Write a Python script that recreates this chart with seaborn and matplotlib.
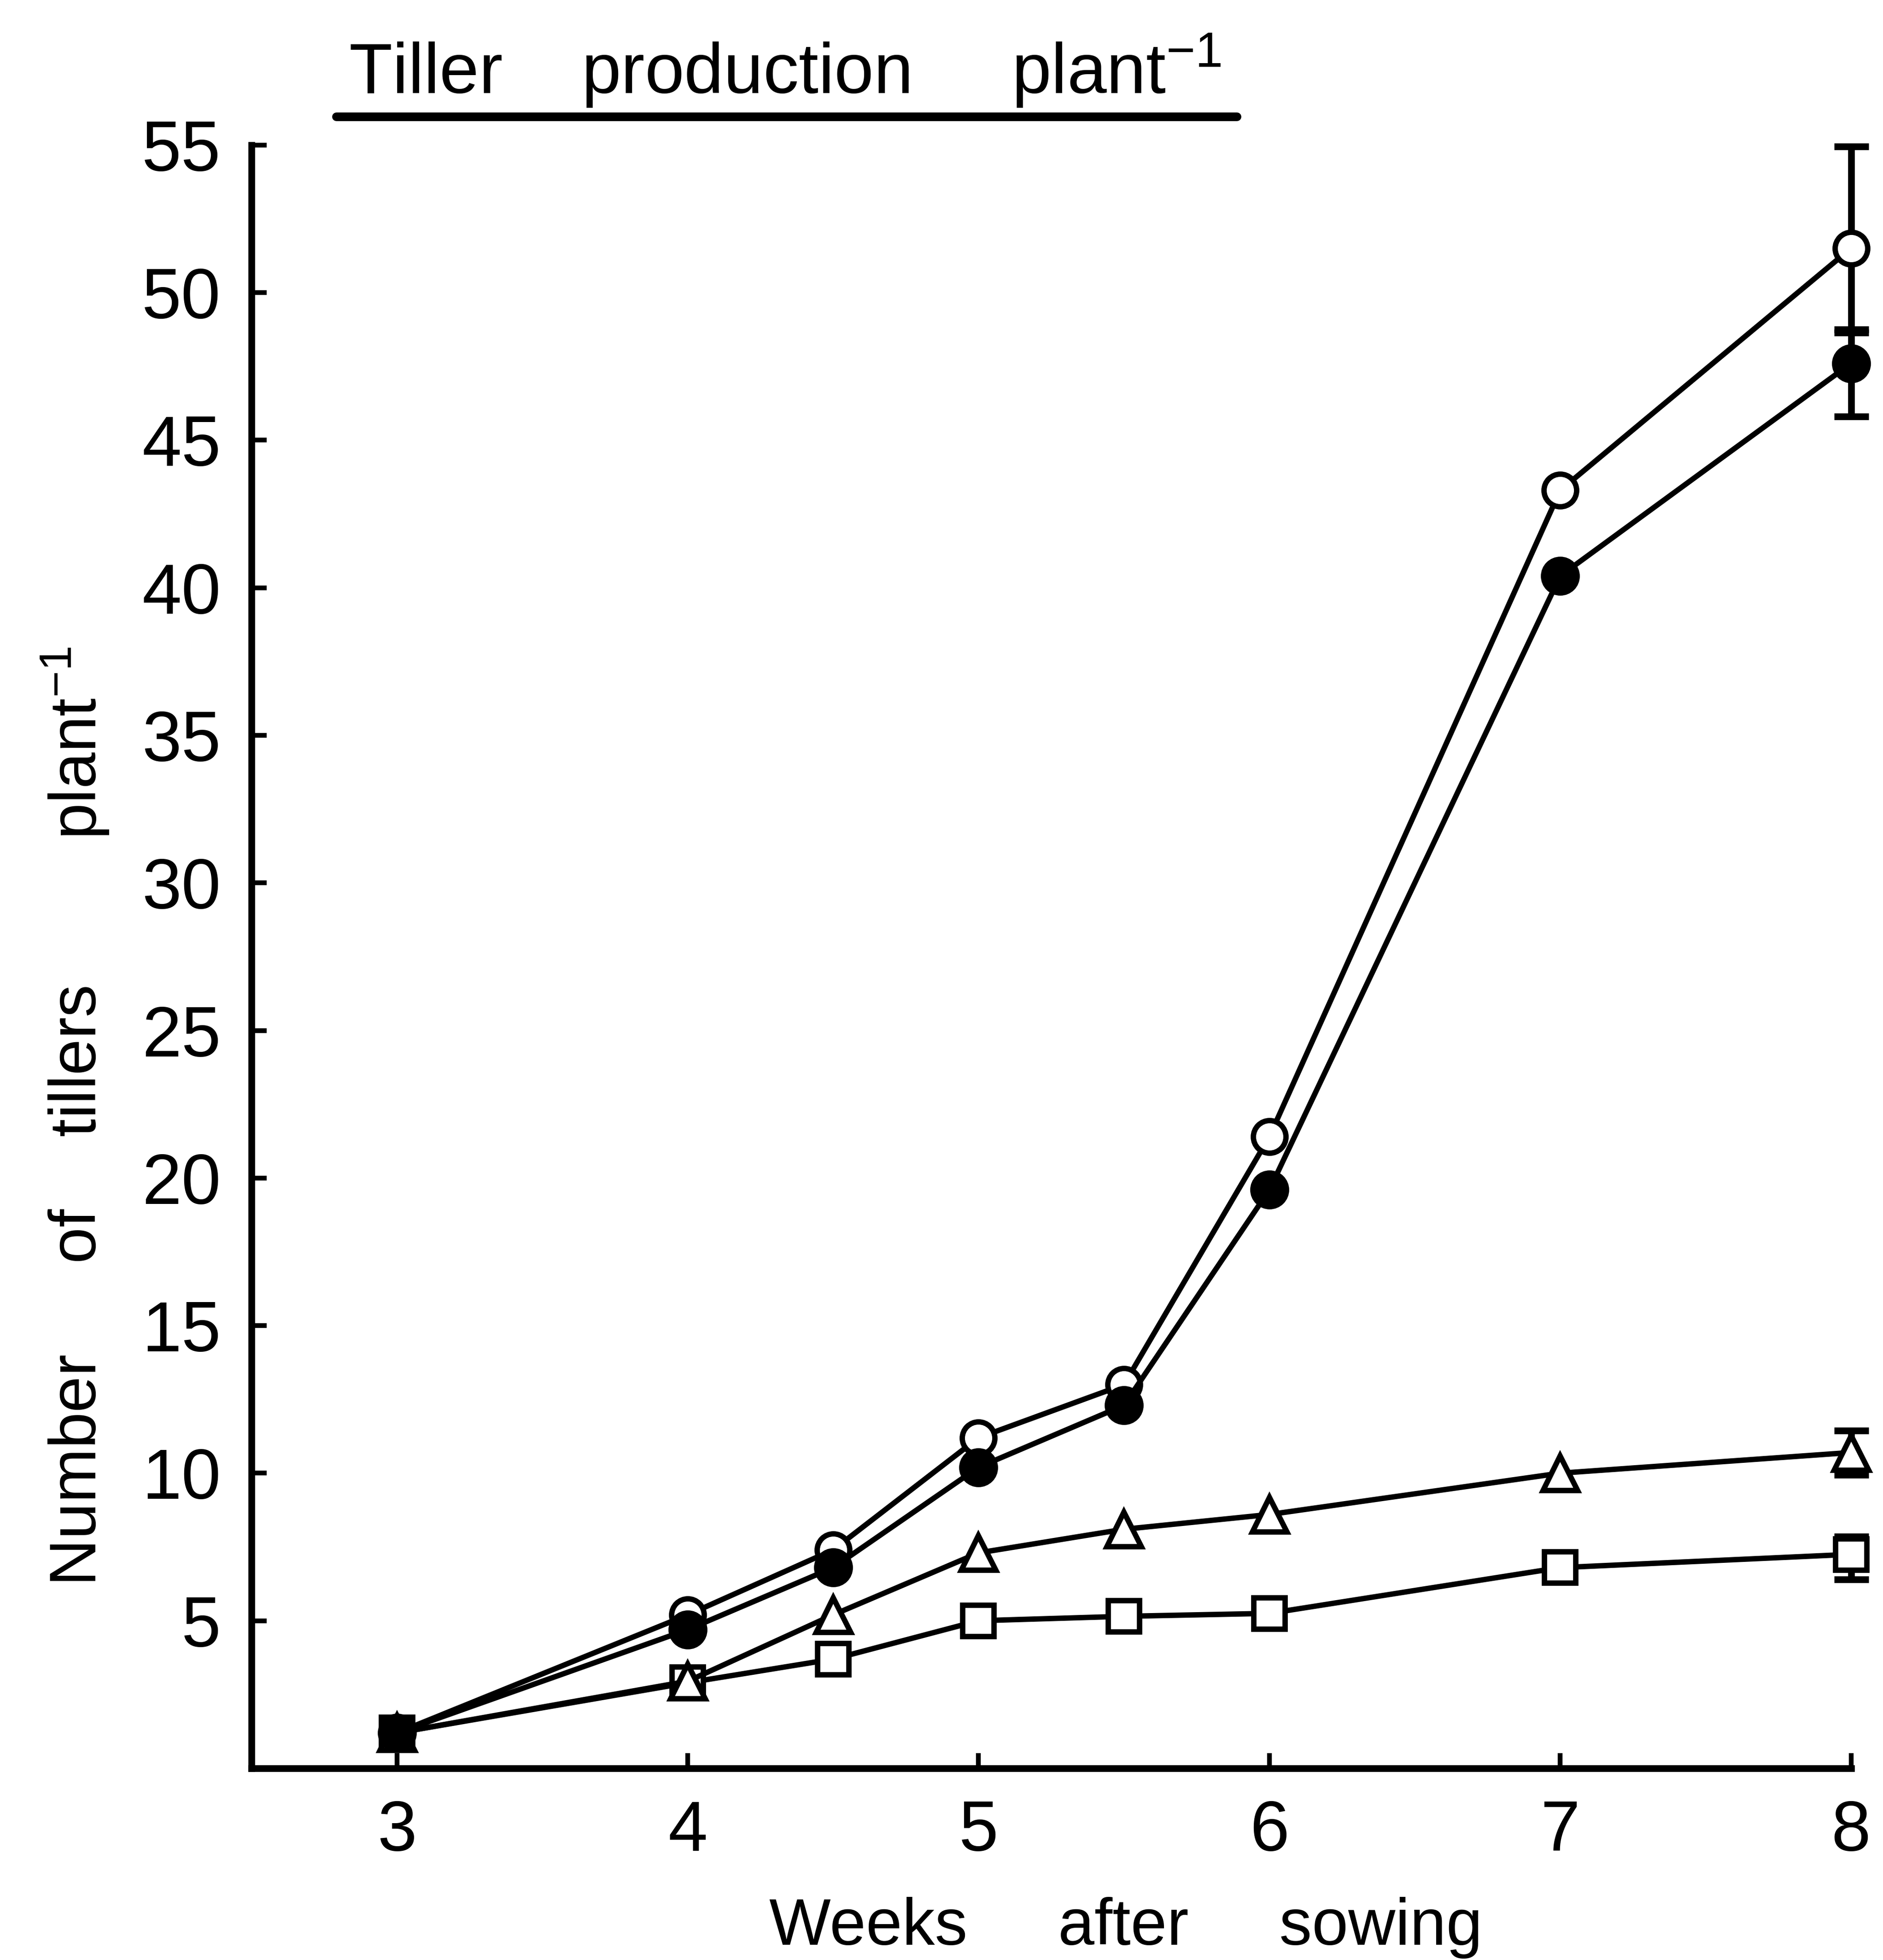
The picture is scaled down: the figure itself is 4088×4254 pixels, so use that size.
import matplotlib
matplotlib.use("Agg")
import matplotlib.pyplot as plt
import seaborn as sns
import pandas as pd
from matplotlib.lines import Line2D

# ---- data ----
weeks = [3, 4, 4.5, 5, 5.5, 6, 7, 8]
open_circle = [1.2, 5.2, 7.4, 11.2, 13.0, 21.4, 43.3, 51.5]
filled_circle = [1.2, 4.7, 6.8, 10.2, 12.3, 19.6, 40.4, 47.6]
triangle = [1.2, 2.95, 5.2, 7.3, 8.1, 8.6, 10.0, 10.7]
square = [1.2, 2.9, 3.7, 5.0, 5.15, 5.25, 6.8, 7.25]

# error bars at week 8: (lower, upper)
err_open = (2.85, 3.45)
err_filled = (1.8, 1.15)
err_triangle = (0.75, 0.75)
err_square = (0.85, 0.6)

x_ticks = [3, 4, 5, 6, 7, 8]
y_ticks = [5, 10, 15, 20, 25, 30, 35, 40, 45, 50, 55]

title_text = "Tiller    production     plant$^{-1}$"
x_label = "Weeks     after     sowing"
y_label = "Number     of    tillers        plant$^{-1}$"

# ---- style ----
sns.set_theme(style="ticks")
plt.rcParams["font.family"] = ["Liberation Sans", "DejaVu Sans"]
plt.rcParams["mathtext.fontset"] = "custom"
plt.rcParams["mathtext.rm"] = "Liberation Sans"
plt.rcParams["mathtext.it"] = "Liberation Sans"
plt.rcParams["mathtext.default"] = "regular"

fig = plt.figure(figsize=(4088 / 300, 4254 / 300), dpi=300)
fig.patch.set_facecolor("white")
ax = fig.add_axes([0.1336, 0.0978, 0.983 - 0.1336, 0.926 - 0.0978])
ax.set_facecolor("white")

lw = 2.8
mew = 2.8
series = [
    ("square", square, "s", "white", 16.5, err_square),
    ("triangle", triangle, "^", "white", 18, err_triangle),
    ("open", open_circle, "o", "white", 17, err_open),
    ("filled", filled_circle, "o", "black", 17.5, err_filled),
]

for i, (name, vals, mk, fc, ms, err) in enumerate(series):
    df = pd.DataFrame({"week": weeks, "value": vals})
    sns.lineplot(data=df, x="week", y="value", ax=ax, color="black",
                 linewidth=lw, marker=mk, markersize=ms,
                 markerfacecolor=fc, markeredgecolor="black",
                 markeredgewidth=mew, clip_on=False, zorder=3 + i,
                 legend=False)
    ax.errorbar([weeks[-1]], [vals[-1]], yerr=[[err[0]], [err[1]]],
                fmt="none", ecolor="black", elinewidth=3.5, capsize=9,
                capthick=3.5, clip_on=False, zorder=2 + i)

ax.set_xlim(2.5, 8.0)
ax.set_ylim(0, 55)
ax.set_xticks(x_ticks)
ax.set_xticklabels([str(t) for t in x_ticks])
ax.set_yticks(y_ticks)
ax.set_yticklabels([str(t) for t in y_ticks])

for s in ["top", "right"]:
    ax.spines[s].set_visible(False)
for s in ["left", "bottom"]:
    ax.spines[s].set_linewidth(3.5)
    ax.spines[s].set_color("black")

ax.tick_params(axis="both", direction="in", length=8, width=2.5,
               colors="black", labelsize=37, pad=16)

ax.set_xlabel(x_label, fontsize=34, color="black", va="baseline")
ax.set_ylabel(y_label, fontsize=34, color="black")
ax.xaxis.set_label_coords(0.5465, -0.1087)
ax.yaxis.set_label_coords(-0.088, 0.4017)

fig.text(0.1852, 0.9523, title_text, fontsize=37, ha="left", va="baseline",
         color="black")
fig.add_artist(Line2D([0.1786, 0.6568], [0.9406, 0.9406], color="black",
                      linewidth=4.5, transform=fig.transFigure))

fig.savefig("out.png", dpi=300, facecolor="white")
